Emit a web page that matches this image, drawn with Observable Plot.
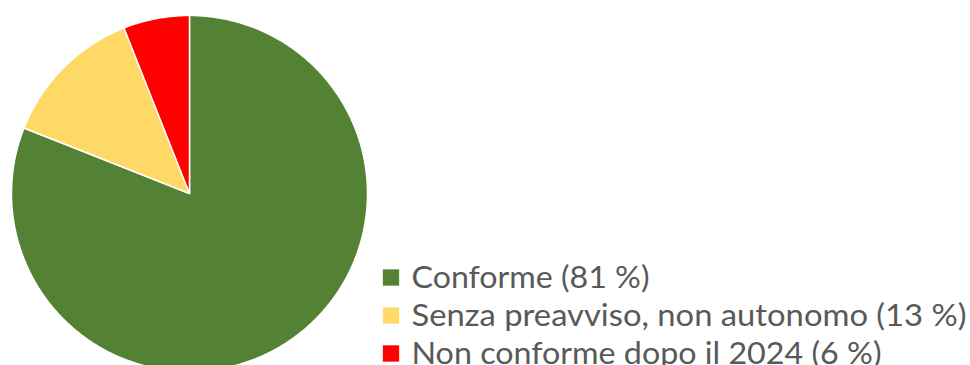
<!DOCTYPE html>
<html>
<head>
<meta charset="utf-8">
<script src="https://cdn.jsdelivr.net/npm/d3@7"></script>
<script src="https://cdn.jsdelivr.net/npm/@observablehq/plot@0.6"></script>
<style>
  html, body { margin: 0; padding: 0; background: #fff; overflow: hidden; }
  #wrap { position: relative; width: 970px; height: 365px; }
  #wrap > svg { position: absolute; left: 0; top: 0; }
</style>
</head>
<body>
<div id="wrap"></div>
<script>
// ---- data ----
const categories = ["Conforme", "Senza preavviso, non autonomo", "Non conforme dopo il 2024"];
const values = [81, 13, 6];
const legendLabels = ["Conforme (81 %)", "Senza preavviso, non autonomo (13 %)", "Non conforme dopo il 2024 (6 %)"];
const colors = ["#548235", "#FFD966", "#FF0000"];

// ---- pie geometry in unit-circle data space ----
const arcs = d3.pie().sort(null).value(d => d.value)(categories.map((c, i) => ({cat: c, value: values[i]})));
const pts = [];
for (const a of arcs) {
  const cat = a.data.cat;
  pts.push({cat, x: 0, y: 0});
  const n = Math.max(2, Math.ceil((a.endAngle - a.startAngle) / (Math.PI / 360)));
  for (let k = 0; k <= n; k++) {
    const t = a.startAngle + (a.endAngle - a.startAngle) * k / n;
    pts.push({cat, x: Math.sin(t), y: Math.cos(t)});
  }
  pts.push({cat, x: 0, y: 0});
}

const W = 970, H = 365, R = 178, CX = 189, CY = 193;
const pie = Plot.plot({
  width: W, height: H,
  marginLeft: CX - R, marginRight: W - (CX + R), marginTop: CY - R, marginBottom: 0,
  x: {domain: [-1, 1], axis: null},
  y: {domain: [-(H - CY) / R, 1], axis: null},
  color: {domain: categories, range: colors},
  marks: [
    Plot.line(pts, {x: "x", y: "y", z: "cat", fill: "cat", stroke: "white", strokeWidth: 1.5, curve: "linear-closed"})
  ]
});
document.getElementById("wrap").appendChild(pie);

// ---- legend ----
const legend = Plot.plot({
  width: W, height: H,
  margin: 0,
  x: {domain: [0, 1], range: [0, W], axis: null},
  y: {domain: categories, type: "point", padding: 0, range: [276, 353.5], axis: null},
  color: {domain: categories, range: colors},
  marks: [
    Plot.dot(categories, {x: () => 390.5 / W, y: d => d, symbol: "square", r: 9.2, fill: d => d, stroke: "none"}),
    Plot.text(categories, {x: () => 411 / W, y: d => d, text: (d, i) => legendLabels[i], textAnchor: "start",
      fill: "#595959", fontSize: 31, fontFamily: "Lato", dy: 1})
  ]
});
legend.style.background = "transparent";
document.getElementById("wrap").appendChild(legend);
// match the reference text widths
const widths = [238, 555, 470];
d3.select(legend).selectAll("text").filter(function() { return this.textContent && legendLabels.includes(this.textContent); })
  .each(function() {
    const i = legendLabels.indexOf(this.textContent);
    this.setAttribute("textLength", widths[i]);
    this.setAttribute("lengthAdjust", "spacingAndGlyphs");
  });
</script>
</body>
</html>
